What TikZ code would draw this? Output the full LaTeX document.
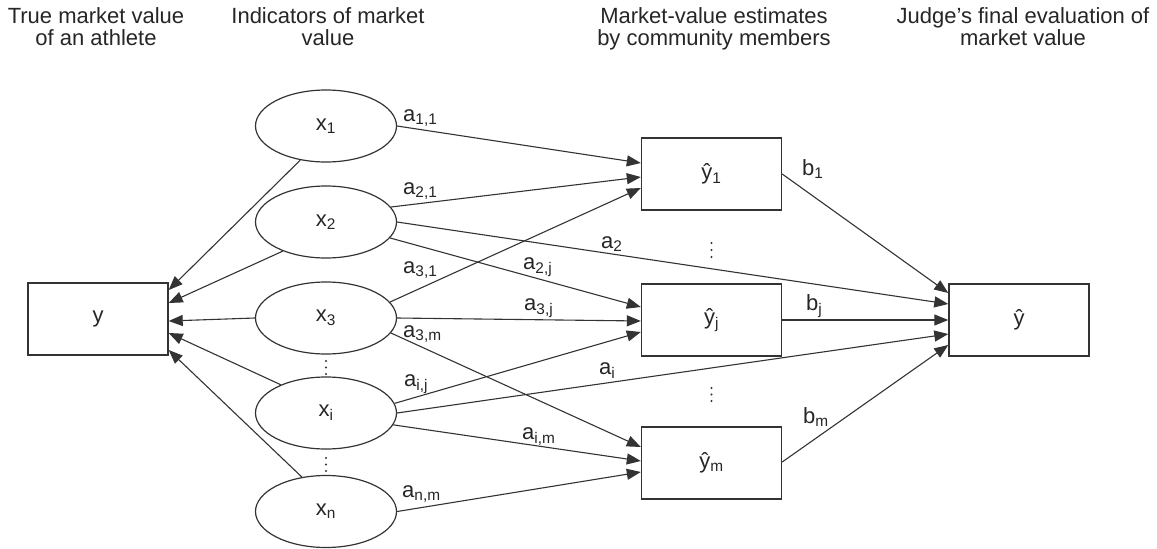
\documentclass[tikz,border=0pt]{standalone}
\usepackage{fontspec}
\setmainfont{Liberation Sans}
\usetikzlibrary{arrows.meta,calc,shapes.geometric}
\begin{document}
\begin{tikzpicture}[x=1pt,y=-1pt,
  every node/.style={font=\fontsize{22}{22}\selectfont, text=black!85},
  box/.style={draw=black!80, line width=1.4pt, minimum width=140pt, minimum height=72pt, inner sep=0pt},
  ind/.style={ellipse, draw=black!80, line width=1.2pt, minimum width=141pt, minimum height=72pt, inner sep=0pt},
  hdr/.style={align=center, anchor=north, inner sep=0pt},
  lbl/.style={anchor=base west, inner sep=0pt},
  arr/.style={draw=black!80, line width=1.1pt, -{Triangle[length=14pt,width=11pt]}},
  dot/.style={fill=black!80}
  ]
\useasboundingbox (0,0) rectangle (1157,549);

% headers
\node[hdr] (H1) at (96,7) {True market value\\of an athlete};
\node[hdr] (H2) at (328,7) {Indicators of market\\value};
\node[hdr] (H3) at (714,7) {Market-value estimates\\by community members};
\node[hdr] (H4) at (1023,7) {Judge’s final evaluation of\\market value};

% nodes
\node[box] (Y) at (98,319) {y};
\node[ind] (X1) at (326,126) {x\textsubscript{1}};
\node[ind] (X2) at (326,222) {x\textsubscript{2}};
\node[ind] (X3) at (326,318) {x\textsubscript{3}};
\node[ind] (Xi) at (326,413) {x\textsubscript{i}};
\node[ind] (Xn) at (326,511.5) {x\textsubscript{n}};
\node[box] (Y1) at (711.5,174) {ŷ\textsubscript{1}};
\node[box] (Yj) at (711.5,320) {ŷ\textsubscript{j}};
\node[box] (Ym) at (711.5,463) {ŷ\textsubscript{m}};
\node[box] (Yh) at (1019,320) {ŷ};

% vertical dots
\foreach \px/\py in {326/361,326/367.5,326/374,326/458,326/464.5,326/471,
                     711.5/243,711.5/250,711.5/257,711.5/388,711.5/394.5,711.5/401}
  \fill[dot] (\px,\py) circle (1.2pt);

% edges to y
\draw[arr] (X1.233) -- ($(Y.east)+(0,-29)$);
\draw[arr] (X2.214) -- ($(Y.east)+(0,-16)$);
\draw[arr] (X3.west) -- ($(Y.east)+(0,2)$);
\draw[arr] (Xi.148) -- ($(Y.east)+(0,14)$);
\draw[arr] (Xn.125) -- ($(Y.east)+(0,31)$);

% edges to estimates
\draw[arr] (X1.east) -- ($(Y1.west)+(0,-11)$);
\draw[arr] (X2.13) -- ($(Y1.west)+(0,3)$);
\draw[arr] (X3.14) -- ($(Y1.west)+(0,14)$);
\draw[arr] (X2.east) -- ($(Yh.west)+(0,-16)$);
\draw[arr] (X2.-14) -- ($(Yj.west)+(0,-13)$);
\draw[arr] (X3.east) -- ($(Yj.west)+(0,1)$);
\draw[arr] (Xi.8) -- ($(Yj.west)+(0,12)$);
\draw[arr] (Xi.east) -- ($(Yh.west)+(0,14)$);
\draw[arr] (X3.-13) -- ($(Ym.west)+(0,-16)$);
\draw[arr] (Xi.-10) -- ($(Ym.west)+(0,-2)$);
\draw[arr] (Xn.east) -- ($(Ym.west)+(0,9)$);
\draw[arr] (Y1.east) -- ($(Yh.west)+(0,-27)$);
\draw[arr] (Yj.east) -- (Yh.west);
\draw[arr] ($(Ym.east)+(0,-1)$) -- ($(Yh.west)+(0,25)$);

% labels
\node[lbl] (L11) at (403,121) {a\textsubscript{1,1}};
\node[lbl] (L21) at (403,194) {a\textsubscript{2,1}};
\node[lbl] (L31) at (403,273) {a\textsubscript{3,1}};
\node[lbl] (L2j) at (523,269) {a\textsubscript{2,j}};
\node[lbl] (L2) at (601,248) {a\textsubscript{2}};
\node[lbl] (L3j) at (524,310) {a\textsubscript{3,j}};
\node[lbl] (L3m) at (403,337) {a\textsubscript{3,m}};
\node[lbl] (Lij) at (404,386) {a\textsubscript{i,j}};
\node[lbl] (Li) at (599,374) {a\textsubscript{i}};
\node[lbl] (Lim) at (522,439) {a\textsubscript{i,m}};
\node[lbl] (Lnm) at (402,497) {a\textsubscript{n,m}};
\node[lbl] (B1) at (802,175) {b\textsubscript{1}};
\node[lbl] (Bj) at (806,310) {b\textsubscript{j}};
\node[lbl] (Bm) at (803,423) {b\textsubscript{m}};
\end{tikzpicture}
\end{document}
